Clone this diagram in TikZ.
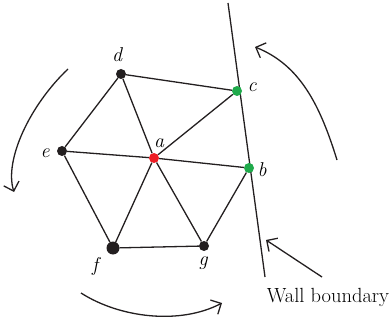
\documentclass[tikz,border=0pt]{standalone}
\usepackage{xcolor}
\usetikzlibrary{arrows.meta}
\definecolor{meshblack}{HTML}{231F20}
\definecolor{meshred}{HTML}{ED1C24}
\definecolor{meshgreen}{HTML}{1FAA4B}
\tikzset{
  vertex/.style={
    circle,
    fill=meshblack,
    inner sep=0pt,
    minimum size=10pt
  },
  centre/.style={
    vertex,
    fill=meshred
  },
  wallpt/.style={
    vertex,
    fill=meshgreen
  },
  edge/.style={
    line width=1.3pt,
    draw=meshblack
  },
  turn/.style={
    line width=1.3pt,
    draw=meshblack,
    -{Straight Barb[length=8pt,width=16pt]}
  },
  lbl/.style={
    font=\fontsize{20}{24}\selectfont\itshape,
    inner sep=0pt
  },
  caption/.style={
    font=\fontsize{20.5}{24}\selectfont,
    inner sep=0pt
  }
}
\begin{document}
\begin{tikzpicture}[x=1pt,y=-1pt]
    \useasboundingbox (0,0) rectangle (391,326);
    % wall
    \coordinate (wtop) at (228,3);
    \coordinate (wbot) at (265,277);
    \draw[edge] (wtop) -- (wbot);
    % mesh
    \node[vertex] (d) at (121,74) {};
    \node[wallpt] (c) at (237,91) {};
    \node[centre] (a) at (154,158) {};
    \node[vertex] (e) at (62,151) {};
    \node[wallpt] (b) at (249,168) {};
    \node[vertex, minimum size=13pt] (f) at (113,248) {};
    \node[vertex] (g) at (204,246) {};
    \draw[edge] (d) -- (c);
    \draw[edge] (d) -- (e);
    \draw[edge] (d) -- (a);
    \draw[edge] (e) -- (a);
    \draw[edge] (a) -- (b);
    \draw[edge] (a) -- (c);
    \draw[edge] (e) -- (f);
    \draw[edge] (a) -- (f);
    \draw[edge] (a) -- (g);
    \draw[edge] (f) -- (g);
    \draw[edge] (g) -- (b);
    \node[lbl] (ld) at (117,55) {d};
    \node[lbl] (lc) at (252,87) {c};
    \node[lbl] (la) at (159,143) {a};
    \node[lbl] (le) at (45,153) {e};
    \node[lbl] (lb) at (262,170) {b};
    \node[lbl] (lf) at (95,266) {f};
    \node[lbl] (lg) at (203,263) {g};
    % rotation arrows
    \coordinate (l1) at (68,69);
    \coordinate (l2) at (14,192);
    \coordinate (r1) at (337,160);
    \coordinate (r2) at (255,47);
    \coordinate (b1) at (81,293);
    \coordinate (b2) at (222,303);
    \draw[turn] (l1) .. controls (30,105) and (4,160) .. (l2);
    \draw[turn] (r1) .. controls (320,105) and (300,65) .. (r2);
    \draw[turn] (b1) .. controls (120,318) and (180,325) .. (b2);
    % wall label
    \coordinate (p1) at (322,277);
    \coordinate (p2) at (266,240);
    \draw[turn] (p1) -- (p2);
    \node[caption] (wall) at (328,297) {Wall boundary};
\end{tikzpicture}
\end{document}
